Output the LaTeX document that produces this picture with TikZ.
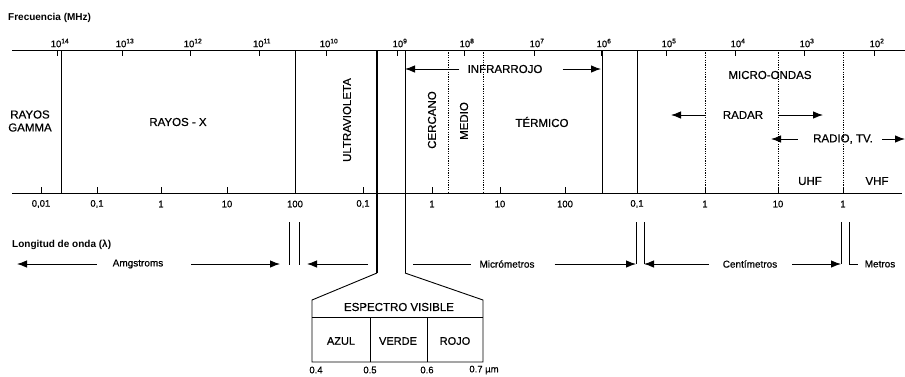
\documentclass[tikz,border=0pt]{standalone}
\usepackage{fontspec}
\setmainfont{Liberation Sans}
\newfontface\medf{Liberation Sans}[FakeBold=0.6]
\usetikzlibrary{arrows.meta}
\begin{document}
\begin{tikzpicture}[x=1pt,y=-1pt,
  ln/.style={line width=0.9pt},
  thk/.style={line width=1.6pt},
  dotl/.style={line width=0.8pt, dash pattern=on 1.2pt off 1.2pt},
  arr/.style={line width=0.9pt,-{Latex[length=10pt,width=7.5pt]}},
  big/.style={font=\medf\fontsize{11.5}{13}\selectfont, inner sep=0pt},
  ticklab/.style={font=\medf\fontsize{9.5}{11}\selectfont, inner sep=0pt},
  sml/.style={font=\medf\fontsize{10}{12}\selectfont, inner sep=0pt},
  ttl/.style={font=\bfseries\fontsize{10}{12}\selectfont, inner sep=0pt, anchor=west},
]
\useasboundingbox (0,0) rectangle (905,376);

% titles
\node[ttl] (frec) at (8,18) {Frecuencia (MHz)};
\node[ttl] (long) at (12,245) {Longitud de onda (λ)};

% axes
\coordinate (ta0) at (12,50); \coordinate (ta1) at (905,50);
\coordinate (ba0) at (12,193); \coordinate (ba1) at (902,193);
\draw[ln] (ta0) -- (ta1);
\draw[ln] (ba0) -- (ba1);

% top ticks with labels
\foreach \x/\e [count=\i] in {57/14,122/13,190/12,259/11,326/10,397/9,464/8,534/7,601/6,666/5,735/4,804/3,874/2}{
  \coordinate (tt\i) at (\x,50);
  \draw[ln] (tt\i) -- ++(0,6);
  \node[ticklab] (tl\i) at (\x+3,43) {10\textsuperscript{\e}};
}
% bottom ticks with labels
\foreach \x/\l [count=\i] in {41/{0,01},97/{0,1},161/1,227/10,295/100,363/{0,1},432/1,500/10,565/100,637/{0,1},705/1,778/10,843/1}{
  \coordinate (bt\i) at (\x,193);
  \draw[ln] (bt\i) -- ++(0,-6);
  \node[ticklab] (bl\i) at (\x,204) {\l};
}

% solid band boundaries
\foreach \x [count=\i] in {61,295,602,637}{
  \coordinate (st\i) at (\x,50); \coordinate (sb\i) at (\x,193);
  \draw[ln] (st\i) -- (sb\i);
}
% dotted band boundaries
\foreach \x [count=\i] in {448,483,705,778,843}{
  \coordinate (dt\i) at (\x,50); \coordinate (db\i) at (\x,193);
  \draw[dotl] (dt\i) -- (db\i);
}

% funnel to visible spectrum
\coordinate (fl0) at (377,50); \coordinate (fl1) at (377,273); \coordinate (fl2) at (312,300);
\coordinate (fr0) at (405,50); \coordinate (fr1) at (405,273); \coordinate (fr2) at (483,300);
\coordinate (bxl) at (312,362); \coordinate (bxr) at (483,362);
\draw[thk] (fl0) -- (fl1);
\draw[ln] (fl1) -- (fl2) -- (bxl) -- (bxr) -- (fr2) -- (fr1);
\draw[ln] (fr1) -- (fr0);
\coordinate (hl) at (312,317); \coordinate (hr) at (483,317);
\draw[ln] (hl) -- (hr);
\coordinate (d1t) at (370,317); \coordinate (d1b) at (370,362);
\coordinate (d2t) at (427,317); \coordinate (d2b) at (427,362);
\draw[ln] (d1t) -- (d1b);
\draw[ln] (d2t) -- (d2b);
\node[big] (esp) at (399,307) {ESPECTRO VISIBLE};
\node[big,font=\medf\fontsize{11}{13}\selectfont] (azul) at (341,341) {AZUL};
\node[big,font=\medf\fontsize{11}{13}\selectfont] (verde) at (398,341) {VERDE};
\node[big,font=\medf\fontsize{11}{13}\selectfont] (rojo) at (455,341) {ROJO};
\node[ticklab] (v4) at (316,370) {0.4};
\node[ticklab] (v5) at (370,370) {0.5};
\node[ticklab] (v6) at (427,370) {0.6};
\node[ticklab] (v7) at (484,370) {0.7 µm};

% region labels
\node[big,align=center] (gamma) at (30,121) {RAYOS\\GAMMA};
\node[big] (rx) at (178,122) {RAYOS - X};
\node[big,rotate=90] (uv) at (347,120) {ULTRAVIOLETA};
\node[big,rotate=90] (cerc) at (432,120) {CERCANO};
\node[big,rotate=90] (medio) at (464,121) {MEDIO};
\node[big] (term) at (542,122) {TÉRMICO};
\node[big] (ir) at (505,69) {INFRARROJO};
\node[big] (mo) at (770,75) {MICRO-ONDAS};
\node[big] (radar) at (743,115) {RADAR};
\node[big] (radio) at (843,139) {RADIO, TV.};
\node[big] (uhf) at (810,181) {UHF};
\node[big] (vhf) at (877,181) {VHF};

% upper arrows
\coordinate (ir1) at (405,69); \coordinate (ir2) at (601,69);
\draw[arr] ([xshift=-8pt]ir.west) -- (ir1);
\draw[arr] ([xshift=20pt]ir.east) -- (ir2);
\coordinate (ra1) at (671,115); \coordinate (ra2) at (823,115);
\draw[arr] ([xshift=-18pt]radar.west) -- (ra1);
\draw[arr] ([xshift=15pt]radar.east) -- (ra2);
\coordinate (rt1) at (771,139); \coordinate (rt2) at (905,139);
\draw[arr] ([xshift=-15pt]radio.west) -- (rt1);
\draw[arr] ([xshift=9pt]radio.east) -- (rt2);

% lower unit arrows
\node[sml] (amg) at (138,264) {Amgstroms};
\node[sml] (micro) at (507,264) {Micrómetros};
\node[sml] (centi) at (750,264) {Centímetros};
\node[sml] (metros) at (880,264) {Metros};
\coordinate (a1) at (17,264); \coordinate (a2) at (280,264); \coordinate (a3) at (307,264);
\coordinate (a3s) at (368,264);
\draw[arr] ([xshift=-16pt]amg.west) -- (a1);
\draw[arr] ([xshift=28pt]amg.east) -- (a2);
\draw[arr] (a3s) -- (a3);
\coordinate (b1) at (289,222); \coordinate (b1e) at (289,265);
\coordinate (b2) at (299,222); \coordinate (b2e) at (299,265);
\draw[ln] (b1) -- (b1e);
\draw[ln] (b2) -- (b2e);
\coordinate (m0) at (413,264);
\draw[ln] (m0) -- ([xshift=-8pt]micro.west);
\coordinate (c1t) at (636,222); \coordinate (c1b) at (636,264);
\coordinate (c2t) at (644,222); \coordinate (c2b) at (644,264);
\draw[ln] (c1t) -- (c1b);
\draw[ln] (c2t) -- (c2b);
\draw[arr] ([xshift=20pt]micro.east) -- (c1b);
\draw[arr] ([xshift=-14pt]centi.west) -- (c2b);
\coordinate (e1t) at (841,222); \coordinate (e1b) at (841,264);
\coordinate (e2t) at (849,222); \coordinate (e2b) at (849,264); \coordinate (e2r) at (858,264);
\draw[ln] (e1t) -- (e1b);
\draw[ln] (e2t) -- (e2b) -- (e2r);
\draw[arr] ([xshift=15pt]centi.east) -- (e1b);
\end{tikzpicture}
\end{document}
